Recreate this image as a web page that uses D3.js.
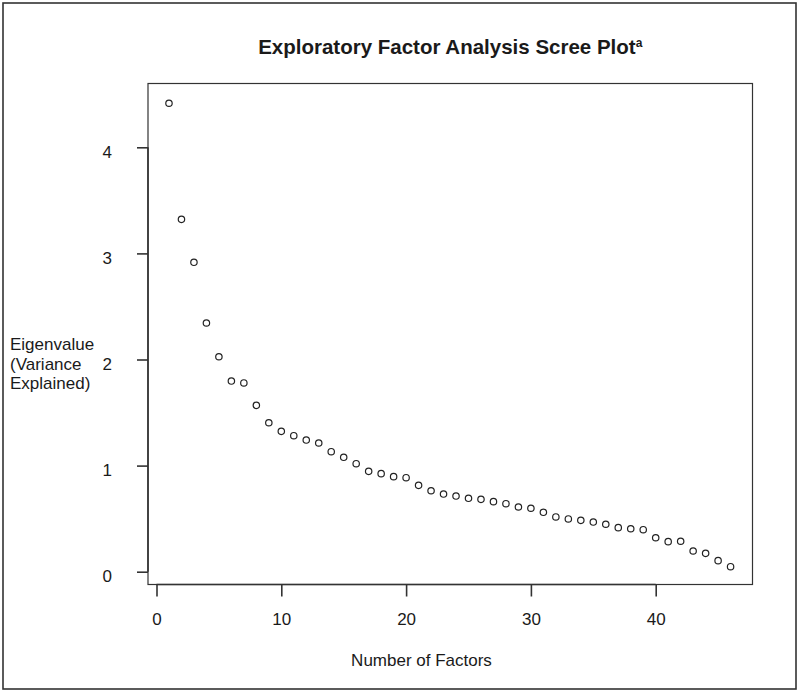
<!DOCTYPE html>
<html>
<head>
<meta charset="utf-8" />
<title>Scree Plot</title>
<style>
  body { margin: 0; background: #fff; }
  text { font-family: "Liberation Sans", Arial, sans-serif; fill: #1a1a1a; }
</style>
<script src="https://cdn.jsdelivr.net/npm/d3@7/dist/d3.min.js"></script>
</head>
<body>
<svg width="800" height="693"></svg>
<script>
// factor numbers and eigenvalues
var factors = d3.range(1, 47);
var eigenvalues = [4.415, 3.321, 2.916, 2.344, 2.026, 1.797, 1.779, 1.568, 1.404, 1.323,
                   1.282, 1.241, 1.213, 1.131, 1.078, 1.018, 0.946, 0.924, 0.896, 0.886,
                   0.814, 0.763, 0.732, 0.713, 0.692, 0.682, 0.660, 0.641, 0.610, 0.598,
                   0.560, 0.516, 0.497, 0.484, 0.468, 0.447, 0.415, 0.405, 0.396, 0.320,
                   0.283, 0.287, 0.195, 0.173, 0.104, 0.047];
var xTicks = [0, 10, 20, 30, 40];
var yTicks = [0, 1, 2, 3, 4];
var titleText = 'Exploratory Factor Analysis Scree Plot';
var yLabelLines = ['Eigenvalue', '(Variance', 'Explained)'];

var svg = d3.select('svg');
var box = { left: 148, top: 83.5, right: 752.5, bottom: 584.5 };

var x = d3.scaleLinear().domain([0, 40]).range([156.5, 655.7]);
var y = d3.scaleLinear().domain([0, 4]).range([571.7, 147.3]);

// outer frame
svg.append('rect')
    .attr('x', 3).attr('y', 3)
    .attr('width', 793).attr('height', 686)
    .attr('fill', 'none').attr('stroke', '#333').attr('stroke-width', 1.6);

// plot box
svg.append('rect')
    .attr('x', box.left).attr('y', box.top)
    .attr('width', box.right - box.left).attr('height', box.bottom - box.top)
    .attr('fill', 'none').attr('stroke', '#333').attr('stroke-width', 1.2);

// y axis
var yAxis = svg.append('g')
    .attr('transform', 'translate(' + box.left + ',0)')
    .call(d3.axisLeft(y).tickValues(yTicks).tickSize(11).tickPadding(25).tickFormat(d3.format('d')));
yAxis.select('.domain').attr('d', 'M0,' + y(4) + 'V' + y(0));
yAxis.selectAll('.tick text').attr('dy', '0.6em');

// x axis
var xAxis = svg.append('g')
    .attr('transform', 'translate(0,' + box.bottom + ')')
    .call(d3.axisBottom(x).tickValues(xTicks).tickSize(12).tickPadding(16).tickFormat(d3.format('d')));
xAxis.select('.domain').attr('d', 'M' + x(0) + ',0H' + x(40));

svg.selectAll('.domain, .tick line').attr('stroke', '#333').attr('stroke-width', 1.6);
svg.selectAll('.tick text').attr('font-size', 17).attr('fill', '#1a1a1a')
    .style('font-family', '"Liberation Sans", Arial, sans-serif');

// points
svg.append('g').selectAll('circle')
    .data(factors)
    .enter().append('circle')
    .attr('cx', function(d) { return x(d); })
    .attr('cy', function(d, i) { return y(eigenvalues[i]); })
    .attr('r', 3.2)
    .attr('fill', 'none')
    .attr('stroke', '#222')
    .attr('stroke-width', 1.2);

// title
var title = svg.append('text')
    .attr('x', (box.left + box.right) / 2)
    .attr('y', 53.5)
    .attr('text-anchor', 'middle')
    .attr('font-size', 20.5)
    .attr('font-weight', 'bold')
    .text(titleText);
title.append('tspan')
    .attr('font-size', 12)
    .attr('dy', -7)
    .text('a');

// x label
svg.append('text')
    .attr('x', 421.5)
    .attr('y', 666)
    .attr('text-anchor', 'middle')
    .attr('font-size', 17)
    .text('Number of Factors');

// y label
svg.append('g').selectAll('text')
    .data(yLabelLines)
    .enter().append('text')
    .attr('x', 10)
    .attr('y', function(d, i) { return 350 + i * 19.5; })
    .attr('font-size', 17)
    .text(function(d) { return d; });
</script>
</body>
</html>
